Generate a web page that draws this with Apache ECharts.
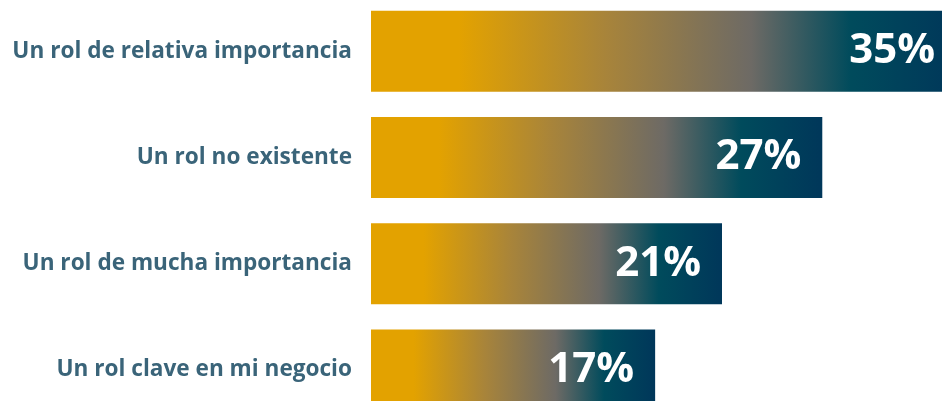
<!DOCTYPE html>
<html>
<head>
<meta charset="utf-8">
<script src="https://cdn.jsdelivr.net/npm/echarts@6/dist/echarts.min.js"></script>
<style>
  html, body { margin: 0; padding: 0; background: #fff; }
  #chart { width: 942px; height: 401px; }
</style>
</head>
<body>
<div id="chart"></div>
<script>
// 类目与数值
const categories = [
  'Un rol de relativa importancia',
  'Un rol no existente',
  'Un rol de mucha importancia',
  'Un rol clave en mi negocio'
]
const values = [35, 27, 21, 17]

const chart = echarts.init(document.getElementById('chart'))

// 每根柱子自己的渐变：橙 -> 灰 -> 深蓝
const barGradient = new echarts.graphic.LinearGradient(0, 0, 1, 0, [
  { offset: 0, color: '#E3A200' },
  { offset: 0.15, color: '#E3A200' },
  { offset: 0.4, color: '#A8843A' },
  { offset: 0.65, color: '#6D6A65' },
  { offset: 0.82, color: '#004B5C' },
  { offset: 1, color: '#00375A' }
])

const option = {
  animation: false,
  // 网格故意超出画布右侧和底部，让 35% 和最后一根柱子被截断
  grid: {
    left: 371, top: -2, width: 585, height: 425,
    containLabel: false,
    outerBoundsMode: 'none'
  },
  xAxis: {
    type: 'value',
    min: 0,
    max: 35,
    show: false
  },
  yAxis: {
    type: 'category',
    inverse: true,
    data: categories,
    axisLine: { show: false },
    axisTick: { show: false },
    axisLabel: {
      margin: 19,
      padding: [6, 0, 0, 0],
      fontFamily: 'Open Sans',
      fontWeight: 'bold',
      fontSize: 22.6,
      color: '#3A6479'
    }
  },
  series: [
    {
      type: 'bar',
      data: values,
      barWidth: 81,
      itemStyle: { color: barGradient },
      label: {
        show: true,
        position: 'insideRight',
        distance: 21,
        formatter: '{c}%',
        fontFamily: 'Open Sans',
        fontWeight: 'bold',
        fontSize: 42,
        color: '#fff'
      }
    }
  ]
}

chart.setOption(option)
</script>
</body>
</html>
